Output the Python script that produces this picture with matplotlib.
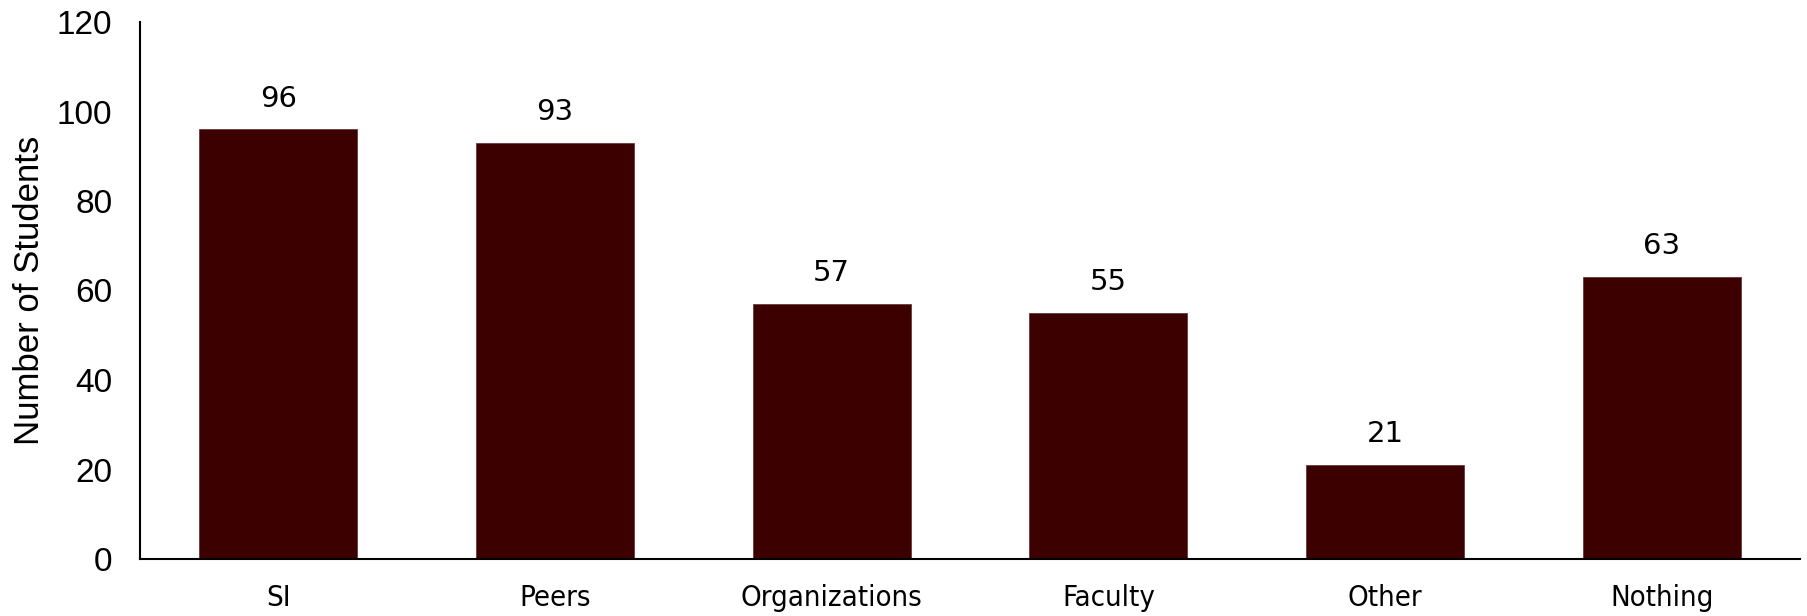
import matplotlib
matplotlib.use('Agg')
import matplotlib.pyplot as plt

categories = ['SI', 'Peers', 'Organizations', 'Faculty', 'Other', 'Nothing']
counts = [96, 93, 57, 55, 21, 63]

bar_color = '#3c0000'

fig = plt.figure(figsize=(18.08, 6.16), dpi=100)
ax = fig.add_axes([140 / 1808, 57 / 616, 1660 / 1808, 537 / 616])

bars = ax.bar(categories, counts, width=0.57, color=bar_color,
              edgecolor='#6a3a3a', linewidth=0.6)

for b, v in zip(bars, counts):
    ax.annotate(str(v), (b.get_x() + b.get_width() / 2, v),
                xytext=(0, 12), textcoords='offset points',
                ha='center', va='bottom', fontsize=21,
                family='DejaVu Sans')

ax.set_xlim(-0.5, 5.5)
ax.set_ylim(0, 120)
ax.set_yticks(range(0, 121, 20))
ax.tick_params(axis='y', labelsize=24, length=0, pad=20)
ax.tick_params(axis='x', labelsize=21, length=0, pad=18)
for lab in ax.get_yticklabels():
    lab.set_family('Liberation Sans')
for lab in ax.get_xticklabels():
    lab.set_family('DejaVu Sans')
    lab.set_stretch('condensed')

ax.set_ylabel('Number of Students', fontsize=25, family='Liberation Sans', labelpad=8)

ax.spines['top'].set_visible(False)
ax.spines['right'].set_visible(False)
ax.spines['left'].set_linewidth(1.5)
ax.spines['bottom'].set_linewidth(1.5)

fig.savefig('out.png', dpi=100)
